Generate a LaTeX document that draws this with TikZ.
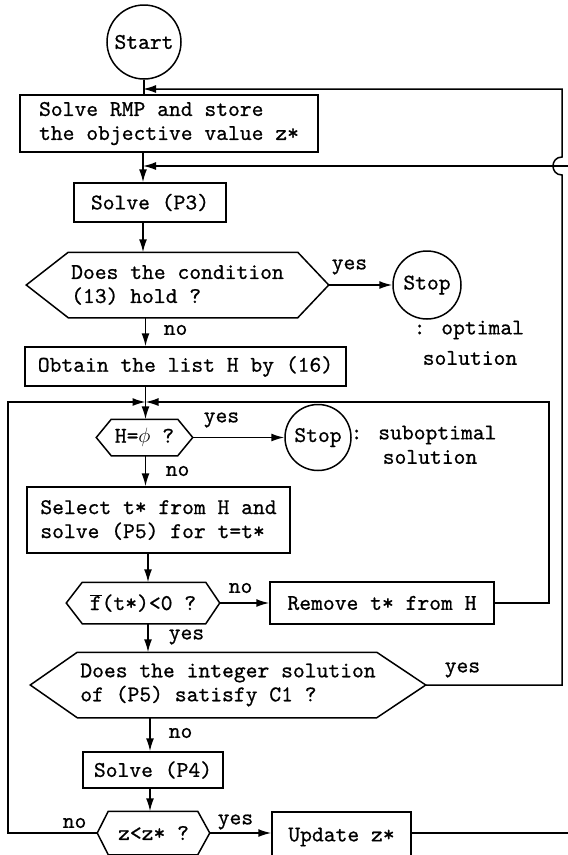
\documentclass[tikz,border=0pt]{standalone}
\usepackage{fontspec}
\newfontfamily\tyfont{lmmono10-regular.otf}[FakeBold=0.7]
\usetikzlibrary{arrows.meta}
\newcommand\hexdraw[3]{\draw (#1.west) -- ([xshift=#2]#1.north west) -- ([xshift=-#3]#1.north east) -- (#1.east) -- ([xshift=-#3]#1.south east) -- ([xshift=#2]#1.south west) -- cycle;}
\begin{document}
\begin{tikzpicture}[x=1pt,y=-1pt,
  line width=1.5pt,
  every node/.style={font={\fontsize{22.5}{24}\selectfont\tyfont}, inner sep=0pt},
  boxnode/.style={draw, rectangle, align=left},
  circ/.style={draw, circle},
  hexin/.style={rectangle, align=left},
  lab/.style={anchor=west},
  arr/.style={-{Latex[length=13pt,width=8pt]}}]
\useasboundingbox (0,0) rectangle (568,855);

% main line x positions
\coordinate (ma) at (143,0);
\coordinate (mb) at (145.5,0);
\coordinate (mc) at (148,0);
\coordinate (md) at (150,0);

\node[circ, minimum size=74pt] (start) at (144,42) {Start};
\node[boxnode, minimum width=298pt, minimum height=57pt] (rmp) at (169,123.5) {Solve RMP and store\\the objective value z*};
\node[boxnode, minimum width=152pt, minimum height=39pt] (p3) at (150,202.5) {Solve (P3)};
\node[hexin, minimum width=301pt, minimum height=64pt] (h1) at (177.5,285) {Does the condition\\(13) hold ?};
\node[circ, minimum size=68pt] (stop1) at (427,285) {Stop};
\node[lab] (opt1) at (413,330) {: optimal};
\node[lab] (opt2) at (422,358) {solution};
\node[lab] (yes1) at (331,267) {yes};
\node[lab] (no1) at (163,330) {no};
\node[boxnode, minimum width=321pt, minimum height=39pt] (obt) at (185.5,366.5) {Obtain the list H by (16)};
\node[hexin, minimum width=95pt, minimum height=35pt] (h2) at (144.5,437.5) {H=$\phi$ ?};
\node[circ, minimum size=66pt] (stop2) at (318,437.5) {Stop};
\node[lab] (yes2) at (203,420) {yes};
\node[lab] (sub1) at (350,435) {: suboptimal};
\node[lab] (sub2) at (382,457) {solution};
\node[lab] (no2) at (165,471) {no};
\node[boxnode, minimum width=263pt, minimum height=66pt] (sel) at (158.5,520) {Select t* from H and\\solve (P5) for t=t*};
\node[hexin, minimum width=152pt, minimum height=40pt] (h3) at (143,603) {$\overline{\mbox{f}}$(t*)<0 ?};
\node[lab] (no3) at (228,588) {no};
\node[boxnode, minimum width=224pt, minimum height=42pt] (rem) at (382,603) {Remove t* from H};
\node[lab] (yes3) at (168,637) {yes};
\node[hexin, minimum width=394pt, minimum height=64pt] (h4) at (228,685) {Does the integer solution\\of (P5) satisfy C1 ?};
\node[lab] (yes4) at (444,670) {yes};
\node[lab] (no4) at (168,733) {no};
\node[boxnode, minimum width=140pt, minimum height=36pt] (p4) at (153,770) {Solve (P4)};
\node[hexin, minimum width=111pt, minimum height=42pt] (h5) at (153.5,833) {z<z* ?};
\node[lab] (no5) at (62,823) {no};
\node[lab] (yes5) at (217,822) {yes};
\node[boxnode, minimum width=139pt, minimum height=50pt] (upd) at (341.5,837) {Update z*};

\hexdraw{h1}{42pt}{31pt}
\hexdraw{h2}{15pt}{15pt}
\hexdraw{h3}{16pt}{14pt}
\hexdraw{h4}{47pt}{49pt}
\hexdraw{h5}{11pt}{12pt}

% loop corner coordinates
\coordinate (c1) at (549,402);
\coordinate (c2) at (8,402);
\coordinate (c3) at (590,166);
\coordinate (c4) at (562,89);
\coordinate (hopb) at (562,175);
\coordinate (hopt) at (562,157);

% main flow
\draw (start) -- (start |- rmp.north);
\draw[arr] (rmp.south -| ma) -- (p3.north -| ma);
\draw[arr] (p3.south -| ma) -- (h1.north -| ma);
\draw[arr] (h1.east) -- (h1.east -| stop1.west);
\draw[arr] (h1.south -| mb) -- (obt.north -| mb);
\draw[arr] (obt.south -| mb) -- (h2.north -| mb);
\draw[arr] (h2.east) -- (h2.east -| stop2.west);
\draw[arr] (h2.south -| mb) -- (sel.north -| mb);
\draw[arr] (sel.south -| mc) -- (h3.north -| mc);
\draw[arr] (h3.east) -- (h3.east -| rem.west);
\draw[arr] (h3.south -| mc) -- (h4.north -| mc);
\draw[arr] (h4.south -| md) -- (p4.north -| md);
\draw[arr] (p4.south -| md) -- (h5.north -| md);
\draw[arr] (h5.east) -- (h5.east -| upd.west);

% loops
\draw[arr] (rem.east) -| (c1) -- (c1 -| mb);
\draw[arr] (h5.west) -| (c2) -- (c2 -| mb);
\draw[arr] (upd.east |- h5.east) -| (c3) -- (c3 -| ma);
\draw[arr] (h4.east) -- (h4.east -| c4) -- (hopb) .. controls (550,175) and (550,157) .. (hopt) -- (c4) -- (c4 -| ma);
\end{tikzpicture}
\end{document}
